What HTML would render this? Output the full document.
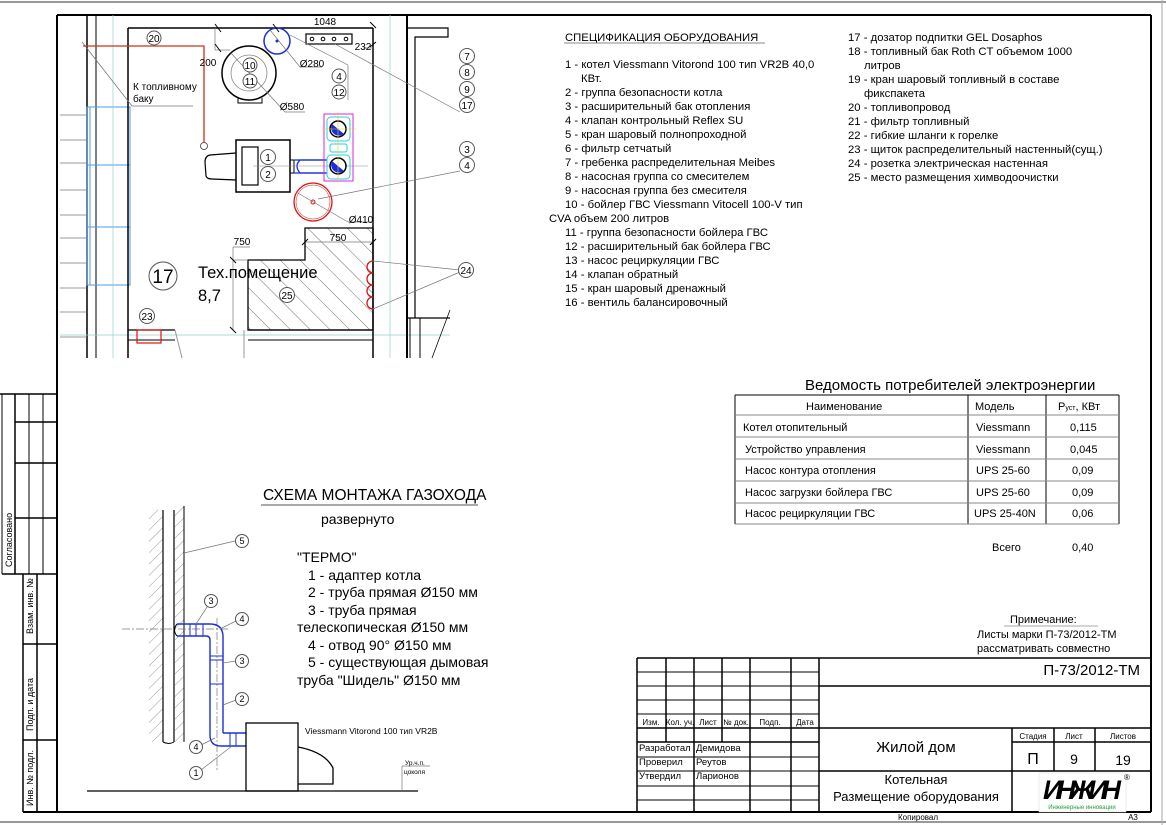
<!DOCTYPE html>
<html><head><meta charset="utf-8"><style>
html,body{margin:0;padding:0;background:#fff}
svg{display:block}
text{font-family:"Liberation Sans",sans-serif;fill:#000}
</style></head><body>
<svg width="1166" height="825" viewBox="0 0 1166 825" xmlns="http://www.w3.org/2000/svg">
<defs>
<pattern id="h" width="8" height="8" patternUnits="userSpaceOnUse" patternTransform="rotate(45)"><line x1="0" y1="0" x2="0" y2="8" stroke="#555" stroke-width="0.6"/></pattern>
<pattern id="h2" width="14" height="14" patternUnits="userSpaceOnUse" patternTransform="rotate(-45)"><line x1="0" y1="0" x2="0" y2="14" stroke="#333" stroke-width="0.7"/></pattern>
</defs>
<rect width="1166" height="825" fill="#fff"/>
<line x1="0" y1="2" x2="1166" y2="2" stroke="#999" stroke-width="2"/>
<line x1="0" y1="822" x2="1166" y2="822" stroke="#999" stroke-width="2"/>
<line x1="1162" y1="0" x2="1162" y2="825" stroke="#aaa" stroke-width="1"/>
<g stroke="#000" fill="none">
<line x1="57" y1="15" x2="1151" y2="15" stroke-width="2"/>
<line x1="57" y1="15" x2="57" y2="812" stroke-width="2"/>
<line x1="1151" y1="15" x2="1151" y2="812" stroke-width="2"/>
<line x1="23" y1="812" x2="1151" y2="812" stroke-width="2"/>
<line x1="0" y1="394" x2="57" y2="394" stroke-width="1.5"/>
<line x1="2" y1="394" x2="2" y2="574" stroke-width="1"/>
<line x1="15" y1="394" x2="15" y2="574" stroke-width="1.5"/>
<line x1="29" y1="394" x2="29" y2="574" stroke-width="1"/>
<line x1="43" y1="394" x2="43" y2="574" stroke-width="1"/>
<line x1="15" y1="422" x2="57" y2="422" stroke-width="1.5"/>
<line x1="15" y1="463" x2="57" y2="463" stroke-width="1.5"/>
<line x1="15" y1="518" x2="57" y2="518" stroke-width="1.5"/>
<line x1="2" y1="574" x2="57" y2="574" stroke-width="1.5"/>
<line x1="23" y1="574" x2="23" y2="812" stroke-width="1.5"/>
<line x1="37" y1="574" x2="37" y2="812" stroke-width="1.5"/>
<line x1="23" y1="644" x2="57" y2="644" stroke-width="1.5"/>
<line x1="23" y1="740" x2="57" y2="740" stroke-width="1.5"/>
</g>
<text transform="translate(12,567) rotate(-90)" font-size="9">Согласовано</text>
<text transform="translate(33,634) rotate(-90)" font-size="9">Взам. инв. №</text>
<text transform="translate(33,731) rotate(-90)" font-size="9">Подп. и дата</text>
<text transform="translate(33,806) rotate(-90)" font-size="9">Инв. № подл.</text>

<g fill="none" stroke="#000">
<line x1="87" y1="15" x2="87" y2="358" stroke-width="1.5"/>
<line x1="96" y1="15" x2="96" y2="358" stroke-width="1"/>
<g stroke="#777" stroke-width="0.8">
<line x1="60" y1="115" x2="87" y2="115"/><line x1="60" y1="140" x2="87" y2="140"/><line x1="60" y1="163" x2="87" y2="163"/><line x1="60" y1="190" x2="87" y2="190"/><line x1="60" y1="215" x2="87" y2="215"/><line x1="60" y1="238" x2="87" y2="238"/><line x1="60" y1="263" x2="87" y2="263"/><line x1="60" y1="288" x2="87" y2="288"/><line x1="60" y1="312" x2="87" y2="312"/><line x1="60" y1="337" x2="87" y2="337"/>
</g>
<g stroke="#4a9ae8" stroke-width="1">
<rect x="87" y="107" width="43" height="58"/><rect x="87" y="165" width="43" height="62"/><rect x="87" y="227" width="43" height="58"/>
<line x1="90" y1="107" x2="90" y2="285"/>
</g>
<g stroke="#9cc" stroke-width="0.7">
<line x1="113" y1="15" x2="113" y2="358"/><line x1="390" y1="15" x2="390" y2="358"/><line x1="60" y1="335" x2="450" y2="335"/>
</g>
<line x1="128" y1="28" x2="373" y2="28" stroke-width="1.5"/>
<line x1="128" y1="28" x2="128" y2="358" stroke-width="1.5"/>
<line x1="373" y1="28" x2="373" y2="358" stroke-width="1.5"/>
<line x1="407" y1="15" x2="407" y2="358" stroke-width="2"/>
<polyline points="407,28 448,28 448,37 415,37 415,318" stroke-width="1.2"/>
<line x1="407" y1="318" x2="450" y2="318" stroke-width="1.2"/>
<line x1="410" y1="318" x2="410" y2="358" stroke-width="1"/>
<line x1="420" y1="318" x2="420" y2="358" stroke-width="1"/>
<line x1="450" y1="310" x2="432" y2="358" stroke-width="0.8"/>
<line x1="128" y1="330" x2="175" y2="330" stroke-width="1.2"/>
<line x1="248" y1="330" x2="373" y2="330" stroke-width="1.2"/>
<line x1="128" y1="340" x2="175" y2="340" stroke-width="1"/>
<line x1="248" y1="340" x2="373" y2="340" stroke-width="1"/>
<line x1="175" y1="330" x2="182" y2="358" stroke="#999"/>
<line x1="244" y1="330" x2="244" y2="358" stroke="#999"/>
<polyline points="83,46 204,46 204,142" stroke="#d03010" stroke-width="1.3"/>
<circle cx="204" cy="146" r="3.5" stroke="#333" stroke-width="0.8"/>
<polyline points="82,42 132,106 193,106" stroke="#777" stroke-width="0.8"/>
<circle cx="249" cy="73" r="27" stroke-width="1.5"/>
<circle cx="249" cy="73" r="18" stroke="#888" stroke-width="0.8"/>
<path d="M238,98 L238,103 L262,103 L262,98" stroke-width="1"/>
<line x1="230" y1="52" x2="285" y2="112" stroke="#777" stroke-width="0.7"/>
<line x1="285" y1="112" x2="305" y2="112" stroke="#777" stroke-width="0.7"/>
<circle cx="277" cy="41" r="13" stroke="#1a2ee0" stroke-width="1.5"/>
<circle cx="277" cy="41" r="1.5" fill="#1a2ee0" stroke="none"/>
<line x1="270" y1="30" x2="300" y2="67" stroke="#777" stroke-width="0.7"/>
<line x1="300" y1="67" x2="322" y2="67" stroke="#777" stroke-width="0.7"/>
<rect x="306" y="34" width="46" height="10" stroke-width="1.2"/>
<circle cx="312" cy="39" r="1.8"/><circle cx="323" cy="39" r="1.8"/><circle cx="334" cy="39" r="1.8"/><circle cx="346" cy="39" r="1.8"/>
<line x1="335" y1="44" x2="460" y2="112" stroke="#777" stroke-width="0.7"/>
<line x1="290" y1="35" x2="348" y2="65" stroke="#777" stroke-width="0.7"/>
<line x1="348" y1="65" x2="348" y2="100" stroke="#777" stroke-width="0.7"/>
<line x1="215" y1="28" x2="215" y2="50" stroke="#777" stroke-width="0.7"/>
<line x1="215" y1="50" x2="230" y2="50" stroke="#777" stroke-width="0.7"/>
<g stroke-width="1"><line x1="215" y1="24" x2="221" y2="32"/><line x1="215" y1="44" x2="221" y2="52"/><line x1="273" y1="24" x2="279" y2="32" /><line x1="370" y1="22" x2="376" y2="28"/><line x1="370" y1="47" x2="376" y2="42"/></g>
<line x1="363" y1="48" x2="373" y2="48" stroke="#777" stroke-width="0.7"/>
<rect x="236" y="140" width="54" height="52" stroke-width="1.5"/>
<rect x="242" y="147" width="16" height="38" stroke-width="1.2"/>
<path d="M236,153 L210,155 Q205,156 205,162 L206,176 Q207,179 212,179 L236,180" stroke-width="1.2"/>
<rect x="290" y="160" width="4" height="13" stroke-width="1"/>
<path d="M327,160 L300,160 Q294,166 300,173 L327,173" stroke="#1a2ee0" stroke-width="1.3"/>
<line x1="294" y1="160" x2="327" y2="160" stroke="#1a2ee0" stroke-width="1.3"/>
<line x1="294" y1="173" x2="327" y2="173" stroke="#1a2ee0" stroke-width="1.3"/>
<line x1="253" y1="166" x2="368" y2="166" stroke="#888" stroke-width="0.6"/>
<rect x="324" y="114" width="29" height="67" stroke="#e020e0" stroke-width="1"/>
<rect x="327" y="117" width="23" height="24" rx="4" stroke="#20d0e0" stroke-width="1"/>
<rect x="330" y="144" width="17" height="8" rx="2" stroke="#20d0e0" stroke-width="1"/>
<rect x="327" y="155" width="23" height="24" rx="4" stroke="#20d0e0" stroke-width="1"/>
<circle cx="338" cy="129" r="8" fill="#fff" stroke-width="1.5"/>
<path d="M332,124 A8,8 0 0,0 344,134 Z" fill="#1a2ee0" stroke="none"/>
<circle cx="338" cy="166" r="8" fill="#fff" stroke-width="1.5"/>
<path d="M332,161 A8,8 0 0,0 344,171 Z" fill="#1a2ee0" stroke="none"/>
<line x1="322" y1="129" x2="356" y2="129" stroke="#e0d020" stroke-width="0.6"/>
<line x1="338" y1="112" x2="338" y2="183" stroke="#e0d020" stroke-width="0.6"/>
<circle cx="313" cy="202" r="19" stroke="#e01010" stroke-width="1.3"/>
<circle cx="313" cy="202" r="17" stroke="#e01010" stroke-width="0.5"/>
<circle cx="313" cy="202" r="2" stroke="#e01010"/>
<line x1="296" y1="192" x2="348" y2="222" stroke="#777" stroke-width="0.7"/>
<line x1="348" y1="222" x2="373" y2="222" stroke="#777" stroke-width="0.7"/>
<line x1="318" y1="199" x2="460" y2="171" stroke="#777" stroke-width="0.7"/>
<polygon points="305,228 373,228 373,330 248,330 248,260 305,260" fill="url(#h2)" stroke="#000" stroke-width="1.3"/>
<line x1="305" y1="242" x2="373" y2="242" stroke="#777" stroke-width="0.7"/>
<line x1="233" y1="247" x2="233" y2="330" stroke="#777" stroke-width="0.7"/>
<line x1="233" y1="247" x2="250" y2="247" stroke="#777" stroke-width="0.7"/>
<line x1="233" y1="260" x2="248" y2="260" stroke="#777" stroke-width="0.7"/>
<g stroke-width="1"><line x1="230" y1="257" x2="236" y2="263"/><line x1="230" y1="327" x2="236" y2="333"/><line x1="302" y1="245" x2="308" y2="239"/><line x1="370" y1="245" x2="376" y2="239"/></g>
<path d="M373,261 A6,6 0 0,0 373,273 A6,6 0 0,0 373,285 A6,6 0 0,0 373,297 A6,6 0 0,0 373,309" stroke="#e01010" stroke-width="1.3"/>
<line x1="373" y1="261" x2="460" y2="270" stroke="#777" stroke-width="0.7"/>
<line x1="373" y1="309" x2="460" y2="272" stroke="#777" stroke-width="0.7"/>
<rect x="137" y="330" width="24" height="13" stroke="#e01010" stroke-width="1.2"/>
</g>
<g fill="#fff" stroke="#555" stroke-width="1">
<circle cx="154" cy="38" r="7"/><circle cx="250" cy="65" r="7"/><circle cx="250" cy="81" r="7"/>
<circle cx="339" cy="76" r="7"/><circle cx="339" cy="92" r="7"/>
<circle cx="467" cy="56" r="7.5"/><circle cx="467" cy="72" r="7.5"/><circle cx="467" cy="89" r="7.5"/><circle cx="467" cy="105" r="7.5"/>
<circle cx="467" cy="149" r="7.5"/><circle cx="467" cy="165" r="7.5"/><circle cx="466" cy="270" r="7.5"/>
<circle cx="268" cy="157" r="7.5"/><circle cx="268" cy="174" r="7.5"/>
<circle cx="163" cy="276" r="14"/><circle cx="287" cy="295" r="7.5"/><circle cx="147" cy="316" r="7.5"/>
</g>
<g font-size="10" text-anchor="middle">
<text x="154" y="42">20</text><text x="250" y="69">10</text><text x="250" y="85">11</text>
<text x="339" y="80">4</text><text x="339" y="96">12</text>
<text x="467" y="60">7</text><text x="467" y="76">8</text><text x="467" y="93">9</text><text x="467" y="109">17</text>
<text x="467" y="153">3</text><text x="467" y="169">4</text><text x="466" y="274">24</text>
<text x="268" y="161">1</text><text x="268" y="178">2</text>
<text x="287" y="299">25</text><text x="147" y="320">23</text>
<text x="163" y="283" font-size="19">17</text>
<text x="325" y="25">1048</text><text x="208" y="66">200</text><text x="363" y="50">232</text>
<text x="312" y="67">Ø280</text><text x="292" y="110">Ø580</text><text x="361" y="223">Ø410</text>
<text x="242" y="245">750</text><text x="338" y="241">750</text>
</g>
<text x="133" y="90" font-size="10">К топливному</text>
<text x="133" y="102" font-size="10">баку</text>
<text x="198" y="278" font-size="16.5">Тех.помещение</text>
<text x="198" y="301" font-size="16.5">8,7</text>

<g font-size="11.3">
<text x="565" y="41">СПЕЦИФИКАЦИЯ ОБОРУДОВАНИЯ</text>
<line x1="564" y1="43" x2="765" y2="43" stroke="#888" stroke-width="1"/>
<text x="565" y="68">1 - котел Viessmann Vitorond 100 тип VR2B 40,0</text>
<text x="581" y="82">КВт.</text>
<text x="565" y="96">2 - группа безопасности котла</text>
<text x="565" y="110">3 - расширительный бак отопления</text>
<text x="565" y="124">4 - клапан контрольный Reflex SU</text>
<text x="565" y="138">5 - кран шаровый полнопроходной</text>
<text x="565" y="152">6 - фильтр сетчатый</text>
<text x="565" y="166">7 - гребенка распределительная Meibes</text>
<text x="565" y="180">8 - насосная группа со смесителем</text>
<text x="565" y="194">9 - насосная группа без смесителя</text>
<text x="565" y="208">10 - бойлер ГВС Viessmann Vitocell 100-V тип</text>
<text x="549" y="222">CVA  объем 200 литров</text>
<text x="565" y="236">11 - группа безопасности бойлера ГВС</text>
<text x="565" y="250">12 - расширительный бак бойлера ГВС</text>
<text x="565" y="264">13 - насос рециркуляции ГВС</text>
<text x="565" y="278">14 - клапан обратный</text>
<text x="565" y="292">15 - кран шаровый дренажный</text>
<text x="565" y="306">16 - вентиль балансировочный</text>
<text x="848" y="41">17 - дозатор подпитки GEL Dosaphos</text>
<text x="848" y="55">18 - топливный бак Roth CT объемом 1000</text>
<text x="864" y="69">литров</text>
<text x="848" y="83">19 - кран шаровый топливный в составе</text>
<text x="864" y="97">фикспакета</text>
<text x="848" y="111">20 - топливопровод</text>
<text x="848" y="125">21 - фильтр топливный</text>
<text x="848" y="139">22 - гибкие шланги к горелке</text>
<text x="848" y="153">23 - щиток распределительный настенный(сущ.)</text>
<text x="848" y="167">24 - розетка электрическая настенная</text>
<text x="848" y="181">25 - место размещения химводоочистки</text>
</g>

<text x="805" y="390" font-size="15">Ведомость потребителей электроэнергии</text>
<g stroke="#000" stroke-width="1" fill="none">
<line x1="735" y1="395" x2="1119" y2="395"/>
<line x1="735" y1="395" x2="735" y2="524"/>
<line x1="1119" y1="395" x2="1119" y2="524"/>
<line x1="968" y1="395" x2="968" y2="524"/>
<line x1="1046" y1="395" x2="1046" y2="524"/>
<g stroke="#888"><line x1="735" y1="415" x2="1119" y2="415"/><line x1="735" y1="437" x2="1119" y2="437"/><line x1="735" y1="459" x2="1119" y2="459"/><line x1="735" y1="481" x2="1119" y2="481"/><line x1="735" y1="503" x2="1119" y2="503"/><line x1="735" y1="524" x2="1119" y2="524"/></g>
</g>
<g font-size="11">
<text x="806" y="410">Наименование</text><text x="975" y="410">Модель</text><text x="1058" y="410">P<tspan font-size="7">уст</tspan>, КВт</text>
<text x="743" y="431">Котел отопительный</text><text x="976" y="431">Viessmann</text><text x="1070" y="431">0,115</text>
<text x="745" y="453">Устройство управления</text><text x="976" y="453">Viessmann</text><text x="1070" y="453">0,045</text>
<text x="745" y="474">Насос контура отопления</text><text x="976" y="474">UPS 25-60</text><text x="1072" y="474">0,09</text>
<text x="745" y="496">Насос загрузки бойлера ГВС</text><text x="976" y="496">UPS 25-60</text><text x="1072" y="496">0,09</text>
<text x="745" y="517">Насос рециркуляции ГВС</text><text x="974" y="517">UPS 25-40N</text><text x="1072" y="517">0,06</text>
<text x="992" y="551">Всего</text><text x="1072" y="551">0,40</text>
<text x="1010" y="623">Примечание:</text>
<text x="977" y="638">Листы марки П-73/2012-ТМ</text>
<text x="977" y="652">рассматривать совместно</text>
</g>
<line x1="1004" y1="626" x2="1098" y2="626" stroke="#aaa"/>

<g stroke="#000" stroke-width="1.5" fill="none">
<line x1="637" y1="658" x2="1151" y2="658"/>
<line x1="637" y1="658" x2="637" y2="812"/>
<line x1="666" y1="658" x2="666" y2="742"/>
<line x1="694" y1="658" x2="694" y2="812"/>
<line x1="722" y1="658" x2="722" y2="742"/>
<line x1="750" y1="658" x2="750" y2="812"/>
<line x1="791" y1="658" x2="791" y2="812"/>
<line x1="819" y1="658" x2="819" y2="812"/>
<line x1="637" y1="728" x2="1151" y2="728"/>
<line x1="637" y1="742" x2="819" y2="742"/>
<line x1="819" y1="686" x2="1151" y2="686"/>
<line x1="819" y1="771" x2="1151" y2="771"/>
<line x1="1012" y1="728" x2="1012" y2="812"/>
<line x1="1054" y1="728" x2="1054" y2="771"/>
<line x1="1095" y1="728" x2="1095" y2="771"/>
<line x1="1012" y1="742" x2="1151" y2="742"/>
<g stroke-width="1"><line x1="637" y1="672" x2="819" y2="672"/><line x1="637" y1="686" x2="819" y2="686"/><line x1="637" y1="700" x2="819" y2="700"/><line x1="637" y1="714" x2="819" y2="714"/>
<line x1="637" y1="757" x2="819" y2="757"/><line x1="637" y1="771" x2="819" y2="771"/><line x1="637" y1="786" x2="819" y2="786"/><line x1="637" y1="800" x2="819" y2="800"/></g>
</g>
<g font-size="8" text-anchor="middle">
<text x="651" y="725">Изм.</text><text x="680" y="725">Кол. уч.</text><text x="708" y="725">Лист</text><text x="736" y="725">№ док.</text><text x="770" y="725">Подп.</text><text x="805" y="725">Дата</text>
<text x="1033" y="739">Стадия</text><text x="1074" y="739">Лист</text><text x="1123" y="739">Листов</text>
<text x="918" y="820">Копировал</text><text x="1133" y="820">А3</text>
</g>
<g font-size="9.5">
<text x="639" y="751">Разработал</text><text x="696" y="751">Демидова</text>
<text x="639" y="765">Проверил</text><text x="696" y="765">Реутов</text>
<text x="639" y="779">Утвердил</text><text x="696" y="779">Ларионов</text>
</g>
<text x="1140" y="675" font-size="15" text-anchor="end">П-73/2012-ТМ</text>
<text x="916" y="752" font-size="15" text-anchor="middle">Жилой дом</text>
<text x="916" y="784" font-size="13" text-anchor="middle">Котельная</text>
<text x="916" y="801" font-size="13" text-anchor="middle">Размещение оборудования</text>
<text x="1033" y="764" font-size="16" text-anchor="middle">П</text>
<text x="1074" y="764" font-size="14" text-anchor="middle">9</text>
<text x="1123" y="765" font-size="14" text-anchor="middle">19</text>
<rect x="1039" y="773" width="87" height="39" fill="#fff" stroke="#ddd" stroke-width="0.5"/>
<text x="1082" y="799" font-size="27" font-weight="bold" font-style="italic" text-anchor="middle" textLength="78">ИНЖИН</text>
<text x="1082" y="809" font-size="6" text-anchor="middle" style="fill:#2a9a3a">Инженерные инновации</text>
<text x="1124" y="780" font-size="8">®</text>

<text x="263" y="500" font-size="15.5">СХЕМА МОНТАЖА ГАЗОХОДА</text>
<line x1="261" y1="505" x2="478" y2="505" stroke="#555" stroke-width="1"/>
<text x="321" y="524" font-size="14">развернуто</text>
<g font-size="14">
<text x="297" y="562">"ТЕРМО"</text>
<text x="308" y="580">1 - адаптер котла</text>
<text x="308" y="597">2 - труба прямая Ø150 мм</text>
<text x="308" y="615">3 - труба прямая</text>
<text x="297" y="632">телескопическая Ø150 мм</text>
<text x="308" y="650">4 - отвод 90° Ø150 мм</text>
<text x="308" y="667">5 - существующая дымовая</text>
<text x="297" y="685">труба "Шидель" Ø150 мм</text>
</g>
<g fill="none" stroke="#000">
<rect x="149" y="510" width="14" height="232" fill="url(#h)" stroke="none"/>
<rect x="175" y="506" width="9" height="236" fill="url(#h)" stroke="none"/>
<line x1="163" y1="510" x2="163" y2="742" stroke-width="1.2"/>
<line x1="174" y1="510" x2="174" y2="742" stroke-width="1.2"/>
<line x1="184" y1="506" x2="184" y2="742" stroke-width="1"/>
<path d="M163,742 Q169,745 174,742" stroke-width="1"/>
<line x1="122" y1="629" x2="230" y2="629" stroke="#777" stroke-width="0.7" stroke-dasharray="8,2,2,2"/>
<line x1="217" y1="618" x2="217" y2="770" stroke="#777" stroke-width="0.7" stroke-dasharray="8,2,2,2"/>
<path d="M177,624 L210,624 Q223,624 223,637 L223,733" stroke="#1a2ee0" stroke-width="1.4"/>
<path d="M177,636 L206,636 Q210,636 210,640 L210,735 Q210,746 221,746 L246,746" stroke="#1a2ee0" stroke-width="1.4"/>
<path d="M223,733 L246,733" stroke="#1a2ee0" stroke-width="1.4"/>
<path d="M177,624 Q172,630 177,636" stroke-width="1"/>
<g stroke="#1a2ee0" stroke-width="1">
<line x1="190" y1="624" x2="190" y2="636"/><line x1="196" y1="624" x2="196" y2="636"/><line x1="203" y1="624" x2="203" y2="636"/>
<line x1="210" y1="656" x2="223" y2="656"/><line x1="210" y1="660" x2="223" y2="660"/><line x1="210" y1="684" x2="223" y2="684"/>
<line x1="230" y1="733" x2="230" y2="746"/><line x1="236" y1="733" x2="236" y2="746"/>
</g>
<line x1="184" y1="553" x2="235" y2="541" stroke="#777" stroke-width="0.7"/>
<line x1="196" y1="624" x2="207" y2="607" stroke="#777" stroke-width="0.7"/>
<line x1="220" y1="629" x2="236" y2="621" stroke="#777" stroke-width="0.7"/>
<line x1="223" y1="663" x2="236" y2="661" stroke="#777" stroke-width="0.7"/>
<line x1="223" y1="705" x2="236" y2="700" stroke="#777" stroke-width="0.7"/>
<line x1="215" y1="738" x2="201" y2="745" stroke="#777" stroke-width="0.7"/>
<line x1="232" y1="746" x2="201" y2="770" stroke="#777" stroke-width="0.7"/>
<rect x="246" y="723" width="52" height="68" stroke-width="1.3"/>
<path d="M298,747 Q325,752 333,768 L333,784 L298,784" stroke-width="1.3"/>
<line x1="87" y1="791" x2="418" y2="791" stroke-width="1.3"/>
<line x1="402" y1="766" x2="402" y2="791" stroke="#777" stroke-width="0.7"/>
<line x1="402" y1="766" x2="430" y2="766" stroke="#777" stroke-width="0.7"/>
</g>
<g fill="#fff" stroke="#555" stroke-width="1">
<circle cx="242" cy="541" r="6.5"/><circle cx="211" cy="601" r="6.5"/><circle cx="242" cy="619" r="6.5"/><circle cx="242" cy="661" r="6.5"/><circle cx="242" cy="699" r="6.5"/><circle cx="196" cy="747" r="6.5"/><circle cx="196" cy="773" r="6.5"/>
</g>
<g font-size="9" text-anchor="middle">
<text x="242" y="544">5</text><text x="211" y="604">3</text><text x="242" y="622">4</text><text x="242" y="664">3</text><text x="242" y="702">2</text><text x="196" y="750">4</text><text x="196" y="776">1</text>
</g>
<text x="305" y="734" font-size="8.5">Viessmann Vitorond 100 тип VR2B</text>
<text x="405" y="765" font-size="6.5">Ур.ч.п.</text>
<text x="404" y="774" font-size="6.5">цоколя</text>
</svg>
</body></html>
